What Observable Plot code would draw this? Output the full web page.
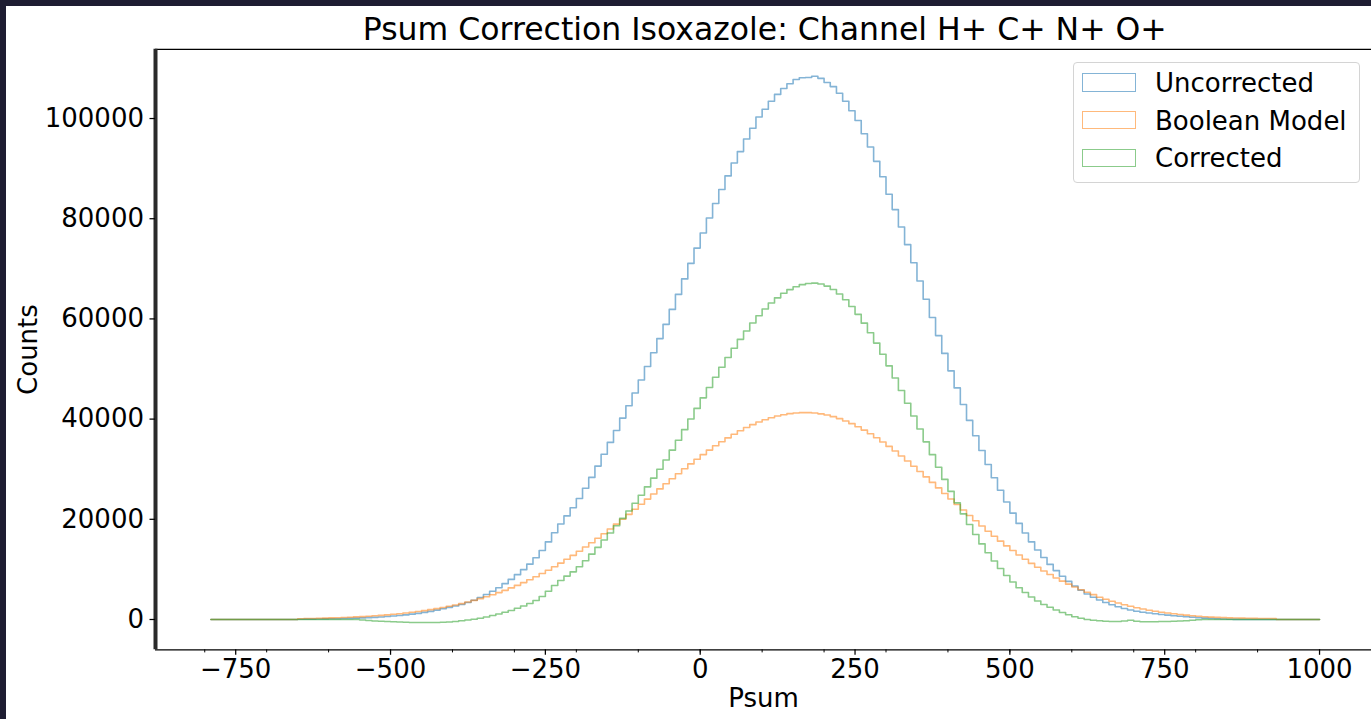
<!DOCTYPE html>
<html>
<head>
<meta charset="utf-8">
<script src="https://cdn.jsdelivr.net/npm/d3@7"></script>
<script src="https://cdn.jsdelivr.net/npm/@observablehq/plot@0.6"></script>
<style>
  html, body { margin: 0; padding: 0; }
  body { background: #1e1d32; width: 1371px; height: 719px; overflow: hidden; position: relative; font-family: "DejaVu Sans", sans-serif; color: #000; }
  #page { position: absolute; left: 6px; top: 6px; width: 1365px; height: 713px; background: #fff; overflow: hidden; }
  #title { position: absolute; left: 149px; width: 1219.5px; top: 8.35px; font-size: 31.5px; line-height: 1; text-align: center; white-space: nowrap; }
  #chart { position: absolute; left: 0; top: 40px; }
  #legend { position: absolute; left: 1066.7px; top: 55.7px; width: 287.3px; height: 121px; box-sizing: border-box; border: 1px solid #d4d4d4; border-radius: 4px; background: rgba(255,255,255,0.8); }
  .patch { position: absolute; left: 8.6px; width: 53.4px; height: 18.4px; box-sizing: border-box; border-width: 1.6px; border-style: solid; }
  .ltext { position: absolute; left: 81.3px; font-size: 26px; line-height: 1; white-space: nowrap; }
</style>
</head>
<body>
<div id="page">
  <div id="title">Psum Correction Isoxazole: Channel H+ C+ N+ O+</div>
  <div id="chart"></div>
  <div id="legend"></div>
</div>
<script>
// ---- data (bin counts, 10-unit bins starting at -790) ----
const binStart = -790;
const binWidth = 10;

const uncorrected = [
  0,0,0,0,0,0,0,0,0,0,0,0,0,0,
  60,70,80,100,120,140,160,190,230,270,
  320,370,430,510,590,690,800,930,1070,1230,
  1420,1630,1860,2130,2420,2700,3000,3380,3830,4380,
  5000,5650,6350,7150,8000,8950,9950,11050,12330,13760,
  15490,17320,19050,20680,22310,24150,26200,28360,30620,32990,
  35350,37730,40200,42660,45200,47820,50510,53260,56070,58920,
  61900,64890,67990,71080,74140,77160,80130,83030,85830,88550,
  91130,93400,95910,98070,100300,101840,103440,104820,105990,106940,
  107800,108130,108200,108450,108020,107200,106370,105060,103460,101560,
  99600,96960,94310,91450,88390,84900,81820,78360,74820,71220,
  67580,63920,60280,56670,53120,49630,46230,42930,39740,36670,
  33740,30950,28300,25800,23450,21240,19180,17270,15500,13870,
  12380,11000,9760,8630,7600,6680,5840,5100,4440,3900,
  3400,2950,2550,2200,1900,1650,1450,1300,1150,1000,
  880,760,650,540,440,350,270,200,140,90,
  50,20,
  0,0,0,0,0,0,0,0,0,0,0,0,0
];

const booleanModel = [
  0,0,0,0,0,0,0,0,0,0,0,0,0,0,
  160,190,210,240,280,320,360,410,460,520,
  580,660,740,830,930,1040,1160,1290,1440,1600,
  1770,1960,2160,2390,2630,2890,3170,3480,3810,4160,
  4530,4940,5370,5820,6310,6820,7360,7940,8540,9170,
  9840,10530,11260,12020,12800,13620,14460,15320,16220,17130,
  18070,19030,20010,20990,22000,23010,24030,25050,26070,27090,
  28100,29100,30090,31060,32000,32920,33810,34670,35480,36260,
  36990,37680,38310,38890,39410,39870,40270,40610,40880,41090,
  41220,41290,41290,41210,41050,40810,40490,40100,39630,39090,
  38480,37810,37080,36280,35440,34550,33620,32650,31640,30600,
  29540,28460,27370,26270,25160,24050,22950,21850,20770,19700,
  18650,17620,16610,15640,14690,13770,12880,12030,11210,10430,
  9680,8970,8290,7650,7050,6480,5940,5440,4970,4450,
  4050,3650,3300,2950,2650,2350,2100,1850,1650,1450,
  1300,1150,1000,880,760,650,560,480,420,370,
  330,300,270,250,230,210,200,180,
  0,0,0,0,0,0,0
];

const corrected = [
  0,0,0,0,0,0,0,0,0,0,0,0,0,0,0,0,0,0,0,0,0,0,0,0,
  -100,-200,-300,-350,-400,-450,-500,-550,-600,-600,
  -600,-600,-600,-550,-500,-400,-250,-100,50,250,
  500,800,1100,1450,1800,2250,2700,3200,3790,4590,
  5650,6790,7790,8660,9510,10530,11740,13040,14400,15860,
  17280,18700,20190,21670,23200,24810,26480,28210,30000,31830,
  33800,35790,37900,40020,42140,44240,46320,48360,50350,52290,
  54140,55920,57600,59180,60630,61970,63170,64210,65110,65850,
  66430,66840,67080,67150,66970,66550,65880,64960,63830,62470,
  60910,59150,57230,55170,52950,50630,48200,45710,43180,40620,
  38040,35460,32910,30400,27960,25580,23280,21080,18970,16970,
  15090,13330,11690,10170,8770,7480,6350,5400,4500,3700,
  3000,2450,1900,1400,950,550,250,0,-150,-250,
  -350,-400,-400,-300,-150,-350,-450,-450,-450,-400,
  -400,-350,-300,-250,-150,-50,
  0,0,0,0,0,0,0,0,0,0,0,0,0,0,0,0,0,0,0
];

const seriesNames = ["Uncorrected", "Boolean Model", "Corrected"];
const seriesColors = ["#1f77b4", "#ff7f0e", "#2ca02c"];
const seriesValues = [uncorrected, booleanModel, corrected];

const xTicks = [-750, -500, -250, 0, 250, 500, 750, 1000];
const xMinorTicks = [-800, -700, -600, -500, -400, -300, -200, -100, 0, 100, 200, 300, 400, 500, 600, 700, 800, 900, 1000];
const yTicks = [0, 20000, 40000, 60000, 80000, 100000];

const xDomain = [-879.5, 1083.9];
const yDomain = [-6050, 113820];

// ---- build step rows ----
function toSteps(values) {
  const rows = values.map((v, i) => ({x: binStart + i * binWidth, y: v}));
  rows.push({x: binStart + values.length * binWidth, y: values[values.length - 1]});
  return rows;
}

const fmt = d => d < 0 ? "\u2212" + Math.abs(d) : String(d);
const lineOpacity = 0.55;
const fs = 26;

const chart = Plot.plot({
  width: 1365,
  height: 673,
  marginLeft: 149,
  marginRight: 0,
  marginTop: 2.8,
  marginBottom: 69.7,
  x: {domain: xDomain},
  y: {domain: yDomain},
  style: {fontFamily: "DejaVu Sans", fontSize: fs + "px", background: "transparent", color: "black", overflow: "visible"},
  marks: [
    ...seriesValues.map((vals, k) => Plot.line(toSteps(vals), {
      x: "x", y: "y", curve: "step-after",
      stroke: seriesColors[k], strokeOpacity: lineOpacity, strokeWidth: 1.6
    })),
    Plot.ruleY([yDomain[0]], {stroke: "black", strokeWidth: 1.25}),
    Plot.ruleY([yDomain[1]], {stroke: "black", strokeWidth: 1.25}),
    Plot.ruleX([xDomain[0]], {stroke: "#2a2a2a", strokeWidth: 4}),
    Plot.axisX({ticks: xMinorTicks, anchor: "bottom", tickSize: 3.1, tickFormat: () => "", label: null, strokeWidth: 1}),
    Plot.axisX({ticks: xTicks, anchor: "bottom", tickSize: 5.5, tickPadding: 4, tickFormat: fmt, label: null, fontSize: fs, strokeWidth: 1.25}),
    Plot.axisY({ticks: yTicks, anchor: "left", tickSize: 5.5, tickPadding: 6, tickFormat: fmt, label: null, fontSize: fs, strokeWidth: 1.25}),
    Plot.text(["Psum"], {text: d => d, frameAnchor: "bottom", dy: 38.5, lineAnchor: "top", fontSize: fs}),
    Plot.text(["Counts"], {text: d => d, frameAnchor: "left", dx: -127, rotate: -90, textAnchor: "middle", lineAnchor: "middle", fontSize: fs})
  ]
});
document.getElementById("chart").appendChild(chart);

// ---- legend ----
const legend = document.getElementById("legend");
const rowTops = [10.6, 48.3, 86.3];
const textTops = [7.0, 45.0, 82.6];
seriesNames.forEach((name, k) => {
  const p = document.createElement("div");
  p.className = "patch";
  p.style.top = rowTops[k] + "px";
  const c = d3.color(seriesColors[k]);
  c.opacity = lineOpacity;
  p.style.borderColor = c.formatRgb();
  legend.appendChild(p);
  const t = document.createElement("div");
  t.className = "ltext";
  t.style.top = textTops[k] + "px";
  t.textContent = name;
  legend.appendChild(t);
});
</script>
</body>
</html>
